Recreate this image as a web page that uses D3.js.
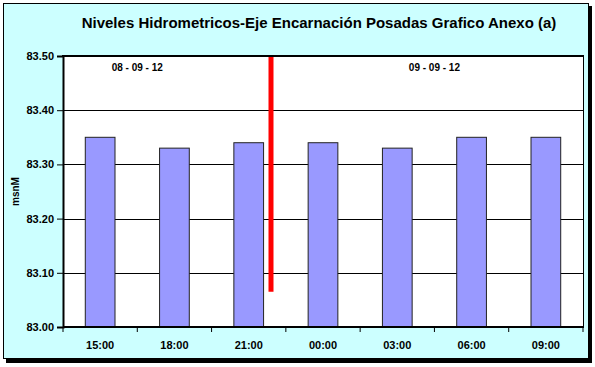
<!DOCTYPE html>
<html>
    <head>
        <title>Niveles Hidrometricos</title>
        <meta charset="UTF-8">
        <style>
            body { margin: 0; background: #fff; }
            svg text { font-family: "Liberation Sans", Arial, sans-serif; font-weight: bold; fill: #000; }
        </style>
    </head>
    <body>
    <svg width="595" height="367"></svg>
    <script src="https://d3js.org/d3.v7.min.js"></script>
    <script>

        // datos
        var horas = ["15:00", "18:00", "21:00", "00:00", "03:00", "06:00", "09:00"];
        var niveles = [83.35, 83.33, 83.34, 83.34, 83.33, 83.35, 83.35];
        var yTicks = [83.00, 83.10, 83.20, 83.30, 83.40, 83.50];
        var fechas = ["08 - 09 - 12", "09 - 09 - 12"];
        var fechaPos = [0.5, 4.5];      // entre categorias (indice)
        var fechaNivel = 83.473;
        var corte = [2.3, 83.065, 83.5]; // indice, nivel inferior, nivel superior

        var svg = d3.select("svg"),
                width = +svg.attr("width"),
                height = +svg.attr("height");

        var pLeft = 63, pRight = 583, pTop = 56, pBottom = 327;

        // fondo y marco con sombra
        svg.append("rect").attr("x", 6).attr("y", 6).attr("width", 586).attr("height", 357).attr("fill", "#000");
        svg.append("rect").attr("x", 3.5).attr("y", 3.5).attr("width", 585).attr("height", 355)
                .attr("fill", "#ccffff").attr("stroke", "#000").attr("stroke-width", 1);

        var x = d3.scaleBand().domain(horas).range([pLeft, pRight]).paddingInner(0.6).paddingOuter(0.3);
        var xi = d3.scaleLinear().domain([-0.5, horas.length - 0.5]).range([pLeft, pRight]);
        var y = d3.scaleLinear().domain([83.0, 83.5]).range([pBottom, pTop]);

        svg.append("rect").attr("x", pLeft).attr("y", pTop).attr("width", pRight - pLeft).attr("height", pBottom - pTop)
                .attr("fill", "#fff");

        // lineas de division
        svg.append("g").selectAll("line")
                .data(yTicks.slice(1, -1))
                .enter().append("line")
                .attr("x1", pLeft).attr("x2", pRight)
                .attr("y1", function (d) { return Math.round(y(d)) + 0.5; })
                .attr("y2", function (d) { return Math.round(y(d)) + 0.5; })
                .attr("stroke", "#000");

        svg.append("g").selectAll("rect")
                .data(niveles)
                .enter().append("rect")
                .attr("x", function (d, i) { return x(horas[i]); })
                .attr("width", x.bandwidth())
                .attr("y", function (d) { return y(d); })
                .attr("height", function (d) { return pBottom - y(d); })
                .attr("fill", "#9999ff")
                .attr("stroke", "#222")
                .attr("stroke-width", 1);

        // marco del area
        svg.append("line").attr("x1", pRight + 0.5).attr("x2", pRight + 0.5).attr("y1", pTop).attr("y2", pBottom).attr("stroke", "#000");
        svg.append("line").attr("x1", pLeft - 1).attr("x2", pRight + 1).attr("y1", pTop).attr("y2", pTop).attr("stroke", "#000").attr("stroke-width", 2);

        // eje y
        var yAxis = svg.append("g")
                .attr("transform", "translate(" + pLeft + ",0)")
                .call(d3.axisLeft(y).tickValues(yTicks).tickFormat(d3.format(".2f")).tickSize(6).tickPadding(3));
        yAxis.select(".domain").attr("stroke-width", 2);
        yAxis.selectAll("text").style("font-size", "11px");

        // eje x
        var xAxis = svg.append("g")
                .attr("transform", "translate(0," + pBottom + ")")
                .call(d3.axisBottom(x).tickSize(0).tickPadding(14));
        xAxis.select(".domain").attr("stroke-width", 2).attr("d", "M" + pLeft + ",0H" + (pRight + 1));
        xAxis.selectAll("text").style("font-size", "11px");
        svg.append("g").selectAll("line")
                .data(d3.range(horas.length + 1))
                .enter().append("line")
                .attr("x1", function (d) { return xi(d - 0.5); })
                .attr("x2", function (d) { return xi(d - 0.5); })
                .attr("y1", pBottom).attr("y2", pBottom + 5)
                .attr("stroke", "#000");

        // separador rojo
        svg.append("line")
                .attr("x1", xi(corte[0])).attr("x2", xi(corte[0]))
                .attr("y1", y(corte[1])).attr("y2", y(corte[2]) + 1)
                .attr("stroke", "#ff0000").attr("stroke-width", 5);

        svg.append("g").selectAll("text")
                .data(fechas)
                .enter().append("text")
                .attr("x", function (d, i) { return xi(fechaPos[i]); })
                .attr("y", y(fechaNivel))
                .attr("text-anchor", "middle")
                .style("font-size", "10px")
                .text(function (d) { return d; });

        svg.append("text")
                .attr("x", 319).attr("y", 28)
                .attr("text-anchor", "middle")
                .style("font-size", "15px")
                .text("Niveles Hidrometricos-Eje Encarnación Posadas Grafico Anexo (a)");

        svg.append("text")
                .attr("transform", "translate(19," + ((pTop + pBottom) / 2) + ") rotate(-90)")
                .attr("text-anchor", "middle")
                .style("font-size", "10px")
                .text("msnM");

    </script>
    </body>
</html>
